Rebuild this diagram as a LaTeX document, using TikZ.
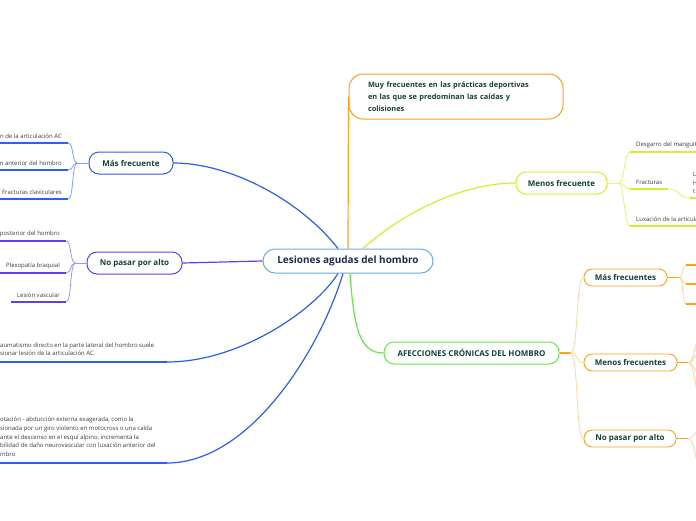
\documentclass[tikz,border=0pt]{standalone}
\usepackage{fontspec}
\setmainfont{Open Sans}
\usetikzlibrary{positioning,shapes}

\definecolor{rootline}{RGB}{110,170,220}
\definecolor{roottext}{RGB}{28,44,82}
\definecolor{topictext}{RGB}{20,66,56}
\definecolor{leaftext}{RGB}{60,60,60}
\definecolor{blueline}{RGB}{45,95,240}
\definecolor{bluelight}{RGB}{130,160,250}
\definecolor{purpleline}{RGB}{95,65,235}
\definecolor{purplelight}{RGB}{160,145,250}
\definecolor{orangeline}{RGB}{255,160,30}
\definecolor{orangelight}{RGB}{255,214,160}
\definecolor{limeline}{RGB}{210,240,50}
\definecolor{limelight}{RGB}{225,248,110}
\definecolor{greenline}{RGB}{100,235,70}

\tikzset{
    rootbox/.style={
        draw=rootline, line width=1pt, rounded corners=12pt, fill=white,
        minimum width=170pt, minimum height=24pt, text=roottext,
        font=\fontsize{10}{12}\selectfont\bfseries
    },
    % cajas de las ramas principales
    topicbox/.style={
        draw=#1, line width=1pt, rounded corners=10pt, fill=white,
        minimum height=22pt, text=topictext,
        font=\fontsize{8}{10}\selectfont\bfseries
    },
    subbox/.style={
        draw=orangeline, line width=0.9pt, rounded corners=8pt, fill=white,
        minimum height=17pt, text=topictext,
        font=\fontsize{8}{10}\selectfont\bfseries
    },
    leaf/.style={
        inner xsep=6pt, inner ysep=4pt, text=leaftext, align=left,
        font=\fontsize{6}{8.6}\selectfont
    },
    mainlink/.style={line width=1.2pt, #1},
    sublink/.style={line width=0.8pt, #1},
    underline/.style={line width=1.3pt, #1}
}

\begin{document}
\begin{tikzpicture}[x=1pt,y=-1pt]
    \useasboundingbox (0,0) rectangle (696,520);
    \clip (0,0) rectangle (696,520);
    \coordinate (leftedge) at (0,0);
    \coordinate (rightedge) at (696,0);

    % nodo central
    \node[rootbox] (root) at (348,261) {Lesiones agudas del hombro};

    % ramas principales
    \node[topicbox=orangeline, rounded corners=14pt, minimum height=45pt,
        text width=176pt, align=left, inner xsep=19pt,
        font=\fontsize{7.4}{12}\selectfont\bfseries] (muy) at (456,96.5)
        {Muy frecuentes en las prácticas deportivas\\en las que se predominan las caídas y\\colisiones};
    \node[topicbox=limeline, minimum width=91pt] (menos) at (561.5,183) {Menos frecuente};
    \node[topicbox=blueline, minimum width=84pt] (mas) at (131,163) {Más frecuente};
    \node[topicbox=purpleline, minimum width=95pt] (nopasar) at (134.5,263) {No pasar por alto};
    \node[topicbox=greenline, minimum width=175pt] (cronicas) at (471.5,353) {AFECCIONES CRÓNICAS DEL HOMBRO};

    % afecciones crónicas
    \node[subbox, minimum width=83pt] (cmas) at (625.5,277.5) {Más frecuentes};
    \node[subbox, minimum width=93pt] (cmenos) at (630.5,362.5) {Menos frecuentes};
    \node[subbox, minimum width=92pt] (cnopasar) at (630,438.5) {No pasar por alto};

    % hojas
    \node[leaf, anchor=south east] (masa) at (68,143) {n de la articulación AC};
    \node[leaf, anchor=south east] (masb) at (68,170) {n anterior del hombro};
    \node[leaf, anchor=south east] (masc) at (68,199) {Fracturas claviculares};
    \node[leaf, anchor=south east] (npa) at (66,241) {posterior del hombro};
    \node[leaf, anchor=south east] (npb) at (66,273) {Plexopatía braquial};
    \node[leaf, anchor=south east] (npc) at (66,302) {Lesión vascular};
    \node[leaf, anchor=south west, inner xsep=0pt, inner ysep=6pt] (trauma) at (0,362)
        {aumatismo directo en la parte lateral del hombro suele\\sionar lesión de la articulación AC};
    \node[leaf, anchor=south west, inner xsep=0pt, inner ysep=6.5pt] (rotacion) at (0,463)
        {otación - abducción externa exagerada, como la\\sionada por un giro violento en motocross o una caída\\ante el descenso en el esquí alpino, incrementa la\\bilidad de daño neurovascular con luxación anterior del\\mbro};
    \coordinate (traumaend) at (167,362);
    \coordinate (rotacionend) at (167,463);

    \node[leaf, anchor=south west] (desgarro) at (630,152) {Desgarro del manguito};
    \node[leaf, anchor=south west] (fracturas) at (630,189) {Fracturas};
    \node[leaf, anchor=south west] (luxacion) at (630,226) {Luxación de la articula};
    \node[leaf, anchor=south west, inner xsep=3pt] (fractipos) at (690,198) {L\\H\\t};

    % enlaces del nodo central
    \draw[mainlink=orangeline] (root.north) -- (muy.west);
    \draw[mainlink=limeline] ([xshift=15pt]root.north) .. controls (400,215) and (460,183) .. (menos.west);
    \draw[mainlink=blueline] ([xshift=-10pt]root.north) .. controls (300,200) and (230,163) .. (mas.east);
    \draw[mainlink=purpleline] (root.west) -- (nopasar.east);
    \draw[mainlink=blueline] ([xshift=-10pt]root.south) .. controls (315,310) and (240,362) .. (traumaend);
    \draw[mainlink=blueline] ([xshift=-5pt]root.south) .. controls (320,350) and (250,463) .. (rotacionend);
    \draw[mainlink=greenline] ([xshift=2pt]root.south) .. controls (354,330) and (360,353) .. (cronicas.west);
    \draw[underline=blueline] (traumaend) -- (leftedge |- traumaend);
    \draw[underline=blueline] (rotacionend) -- (leftedge |- rotacionend);

    % más frecuente
    \coordinate (masfork) at ([xshift=-11pt]mas.west);
    \draw[sublink=bluelight] (mas.west) -- (masfork);
    \foreach \leafname in {masa,masb,masc}
        \draw[sublink=bluelight] (masfork) .. controls +(-6,0) and +(6,0) .. (\leafname.south east);
    \foreach \leafname in {masa,masb,masc}
        \draw[underline=blueline] (\leafname.south east) -- (leftedge |- \leafname.south east);

    % no pasar por alto
    \coordinate (npfork) at ([xshift=-11pt]nopasar.west);
    \draw[sublink=purplelight] (nopasar.west) -- (npfork);
    \foreach \leafname in {npa,npb,npc}
        \draw[sublink=purplelight] (npfork) .. controls +(-6,0) and +(6,0) .. (\leafname.south east);
    \draw[underline=purpleline] (npa.south east) -- (leftedge |- npa.south east);
    \draw[underline=purpleline] (npb.south east) -- (npb.south west);
    \draw[underline=purpleline] (npc.south east) -- (npc.south west);

    % menos frecuente
    \coordinate (menosfork) at ([xshift=11pt]menos.east);
    \draw[sublink=limelight] (menos.east) -- (menosfork);
    \foreach \leafname in {desgarro,fracturas,luxacion}
        \draw[sublink=limelight] (menosfork) .. controls +(6,0) and +(-6,0) .. (\leafname.south west);
    \draw[underline=limeline] (desgarro.south west) -- (rightedge |- desgarro.south west);
    \draw[underline=limeline] (fracturas.south west) -- (fracturas.south east);
    \draw[underline=limeline] (luxacion.south west) -- (rightedge |- luxacion.south west);
    \draw[sublink=limelight] (fracturas.south east) .. controls +(12,0) and +(-12,0) .. (fractipos.south west);
    \draw[underline=limeline] (fractipos.south west) -- (rightedge |- fractipos.south west);

    % afecciones crónicas
    \coordinate (cronfork) at ([xshift=11pt]cronicas.east);
    \draw[mainlink=orangeline] (cronicas.east) -- (cronfork);
    \foreach \leafname in {cmas,cmenos,cnopasar}
        \draw[sublink=orangelight] (cronfork) .. controls +(8,0) and +(-8,0) .. (\leafname.west);

    \coordinate (cmasfork) at ([xshift=12pt]cmas.east);
    \coordinate (cmasa) at (686,265);
    \coordinate (cmasb) at (686,284);
    \coordinate (cmasc) at (686,304);
    \draw[mainlink=orangeline] (cmas.east) -- (cmasfork);
    \foreach \leafname in {cmasa,cmasb,cmasc} {
        \draw[sublink=orangelight] (cmasfork) .. controls +(4,0) and +(-4,0) .. (\leafname);
        \draw[underline=orangeline] (\leafname) -- (rightedge |- \leafname);
    }

    \coordinate (cmenosfork) at ([xshift=11pt]cmenos.east);
    \coordinate (cmenosa) at (702,333);
    \coordinate (cmenosb) at (702,350);
    \coordinate (cmenosc) at (702,378);
    \coordinate (cmenosd) at (702,402);
    \draw[mainlink=orangeline] (cmenos.east) -- (cmenosfork);
    \foreach \leafname in {cmenosa,cmenosb,cmenosc,cmenosd}
        \draw[sublink=orangelight] (cmenosfork) .. controls +(6,0) and +(-6,0) .. (\leafname);

    \coordinate (cnpfork) at ([xshift=12pt]cnopasar.east);
    \coordinate (cnpa) at (702,428);
    \coordinate (cnpb) at (702,470);
    \draw[mainlink=orangeline] (cnopasar.east) -- (cnpfork);
    \foreach \leafname in {cnpa,cnpb}
        \draw[sublink=orangelight] (cnpfork) .. controls +(6,0) and +(-6,0) .. (\leafname);
\end{tikzpicture}
\end{document}
